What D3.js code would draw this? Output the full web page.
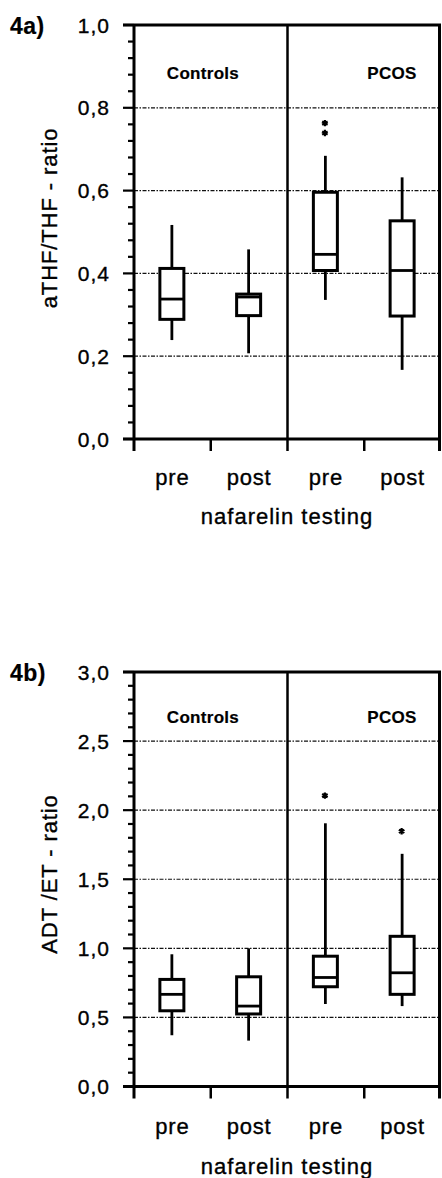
<!DOCTYPE html>
<html>
<head>
<meta charset="utf-8">
<script src="https://cdn.jsdelivr.net/npm/d3@7"></script>
<style>
  html, body { margin: 0; padding: 0; background: #fff; }
  text { font-family: "Liberation Sans", Arial, sans-serif; fill: #000; stroke: #000; stroke-width: 0.35px; }
</style>
</head>
<body>
<div id="chart"></div>
<script>
// categories along the x axis
const groups = ["Controls", "PCOS"];
const phases = ["pre", "post"];
const categories = ["Controls-pre", "Controls-post", "PCOS-pre", "PCOS-post"];

// 4a) aTHF/THF ratio: [whiskerLow, q1, median, q3, whiskerHigh]
const boxesA = [
    [0.239, 0.289, 0.338, 0.412, 0.517],
    [0.207, 0.298, 0.343, 0.350, 0.458],
    [0.336, 0.407, 0.446, 0.596, 0.684],
    [0.167, 0.297, 0.407, 0.527, 0.632]
];
const outliersA = [
    { cat: "PCOS-pre", value: 0.763 },
    { cat: "PCOS-pre", value: 0.739 }
];
const ticksA = [0, 0.2, 0.4, 0.6, 0.8, 1.0];

// 4b) ADT/ET ratio
const boxesB = [
    [0.371, 0.548, 0.667, 0.775, 0.957],
    [0.332, 0.525, 0.582, 0.794, 1.0],
    [0.597, 0.722, 0.789, 0.943, 1.905],
    [0.582, 0.667, 0.823, 1.087, 1.684]
];
const outliersB = [
    { cat: "PCOS-pre", value: 2.105 },
    { cat: "PCOS-post", value: 1.847 }
];
const ticksB = [0, 0.5, 1.0, 1.5, 2.0, 2.5, 3.0];

const W = 442, H = 1178;
const svg = d3.select("#chart").append("svg")
    .attr("width", W)
    .attr("height", H);

const x = d3.scaleBand()
    .domain(categories)
    .range([134, 441])
    .paddingInner(0)
    .paddingOuter(0);

const fmt = v => d3.format(".1f")(v).replace(".", ",");

function drawPanel(opts) {
    const g = svg.append("g");
    const y = d3.scaleLinear()
        .domain([0, opts.max])
        .range([opts.bottom, opts.top]);
    const x0 = x.range()[0], x1 = x.range()[1];

    // dotted gridlines
    g.selectAll(".grid")
        .data(opts.ticks.filter(t => t > 0 && t < opts.max))
        .enter().append("line")
        .attr("x1", x0).attr("x2", x1)
        .attr("y1", d => y(d)).attr("y2", d => y(d))
        .attr("stroke", "#111")
        .attr("stroke-width", 1.2)
        .attr("stroke-dasharray", "4,1.5,1.5,1.5");

    // minor ticks
    const minor = d3.range(0, opts.max + 1e-9, opts.minorStep)
        .filter(v => !opts.ticks.some(t => Math.abs(t - v) < 1e-9));
    g.selectAll(".minor")
        .data(minor)
        .enter().append("line")
        .attr("x1", x0 - 6).attr("x2", x0)
        .attr("y1", d => y(d)).attr("y2", d => y(d))
        .attr("stroke", "#000")
        .attr("stroke-width", 2.2);

    // major ticks + labels
    g.selectAll(".major")
        .data(opts.ticks)
        .enter().append("line")
        .attr("x1", x0 - 11).attr("x2", x0)
        .attr("y1", d => y(d)).attr("y2", d => y(d))
        .attr("stroke", "#000")
        .attr("stroke-width", 2.2);
    g.selectAll(".tlabel")
        .data(opts.ticks)
        .enter().append("text")
        .attr("x", 110)
        .attr("y", d => y(d))
        .attr("dy", "0.36em")
        .attr("text-anchor", "end")
        .attr("font-size", 21)
        .attr("letter-spacing", 1)
        .text(fmt);

    // frame: left axis, top, bottom, right, divider
    g.append("line")
        .attr("x1", x0).attr("x2", x0)
        .attr("y1", y(opts.max)).attr("y2", y(0) + 12)
        .attr("stroke", "#000").attr("stroke-width", 3);
    g.append("line")
        .attr("x1", x0 - 11).attr("x2", x1)
        .attr("y1", y(opts.max)).attr("y2", y(opts.max))
        .attr("stroke", "#000").attr("stroke-width", 3);
    g.append("line")
        .attr("x1", x0 - 11).attr("x2", x1)
        .attr("y1", y(0)).attr("y2", y(0))
        .attr("stroke", "#000").attr("stroke-width", 3);
    g.append("line")
        .attr("x1", x1 - 1.5).attr("x2", x1 - 1.5)
        .attr("y1", y(opts.max)).attr("y2", y(0) + 12)
        .attr("stroke", "#000").attr("stroke-width", 3);
    const mid = x("PCOS-pre");
    g.append("line")
        .attr("x1", mid).attr("x2", mid)
        .attr("y1", y(opts.max)).attr("y2", y(0) + 12)
        .attr("stroke", "#000").attr("stroke-width", 2.5);
    // small x tick between pre/post
    g.selectAll(".xtick")
        .data(["Controls-post", "PCOS-post"])
        .enter().append("line")
        .attr("x1", d => x(d)).attr("x2", d => x(d))
        .attr("y1", y(0)).attr("y2", y(0) + 12)
        .attr("stroke", "#000").attr("stroke-width", 2.5);

    // group labels
    g.selectAll(".group")
        .data(groups)
        .enter().append("text")
        .attr("x", (d, i) => i === 0 ? 203 : 392)
        .attr("y", y(opts.max) + opts.groupDy)
        .attr("dy", "0.36em")
        .attr("text-anchor", "middle")
        .attr("font-size", 17)
        .attr("font-weight", "bold")
        .attr("letter-spacing", 0.3)
        .style("stroke-width", "0.2px")
        .text(d => d);

    // boxes
    const bw = 24;
    const box = g.selectAll(".box")
        .data(opts.boxes)
        .enter().append("g")
        .attr("transform", (d, i) => `translate(${x(categories[i]) + x.bandwidth() / 2 - 0.5},0)`);
    box.append("line")
        .attr("y1", d => y(d[0])).attr("y2", d => y(d[1]))
        .attr("stroke", "#000").attr("stroke-width", 2.8);
    box.append("line")
        .attr("y1", d => y(d[3])).attr("y2", d => y(d[4]))
        .attr("stroke", "#000").attr("stroke-width", 2.8);
    box.append("rect")
        .attr("x", -bw / 2)
        .attr("width", bw)
        .attr("y", d => y(d[3]))
        .attr("height", d => y(d[1]) - y(d[3]))
        .attr("fill", "#fff")
        .attr("stroke", "#000")
        .attr("stroke-width", 3);
    box.append("line")
        .attr("x1", -bw / 2).attr("x2", bw / 2)
        .attr("y1", d => y(d[2])).attr("y2", d => y(d[2]))
        .attr("stroke", "#000").attr("stroke-width", 2.8);

    // outliers as asterisks
    const sym = d3.symbol().type(d3.symbolAsterisk || d3.symbolCross).size(28);
    g.selectAll(".out")
        .data(opts.outliers)
        .enter().append("path")
        .attr("d", sym)
        .attr("transform", d => `translate(${x(d.cat) + x.bandwidth() / 2 - 1},${y(d.value)})`)
        .attr("fill", "#000")
        .attr("stroke", "#000")
        .attr("stroke-width", 2.2);

    // x category labels
    g.selectAll(".xl")
        .data(categories)
        .enter().append("text")
        .attr("x", d => x(d) + x.bandwidth() / 2)
        .attr("y", y(0) + opts.catDy)
        .attr("text-anchor", "middle")
        .attr("font-size", 22)
        .attr("letter-spacing", 0.8)
        .text(d => d.split("-")[1]);
    g.append("text")
        .attr("x", 287)
        .attr("y", y(0) + opts.titleDy)
        .attr("text-anchor", "middle")
        .attr("font-size", 22)
        .attr("letter-spacing", 1)
        .text("nafarelin testing");

    // y title
    g.append("text")
        .attr("transform", `translate(${opts.yTitleX},${opts.yTitleY}) rotate(-90)`)
        .attr("text-anchor", "middle")
        .attr("font-size", 22)
        .attr("letter-spacing", 0.9)
        .text(opts.yTitle);

    // panel tag
    g.append("text")
        .attr("x", 10)
        .attr("y", y(opts.max) + 9)
        .attr("font-size", 23)
        .attr("font-weight", "bold")
        .attr("letter-spacing", 0.5)
        .style("stroke-width", "0.2px")
        .text(opts.tag);
}

drawPanel({
    tag: "4a)", yTitle: "aTHF/THF - ratio",
    max: 1.0, top: 25, bottom: 439,
    ticks: ticksA, minorStep: 0.04,
    boxes: boxesA, outliers: outliersA,
    groupDy: 48, catDy: 46, titleDy: 85, yTitleX: 57, yTitleY: 218
});

drawPanel({
    tag: "4b)", yTitle: "ADT /ET - ratio",
    max: 3.0, top: 672, bottom: 1086.5,
    ticks: ticksB, minorStep: 0.1,
    boxes: boxesB, outliers: outliersB,
    groupDy: 45, catDy: 47, titleDy: 87, yTitleX: 57, yTitleY: 874
});
</script>
</body>
</html>
